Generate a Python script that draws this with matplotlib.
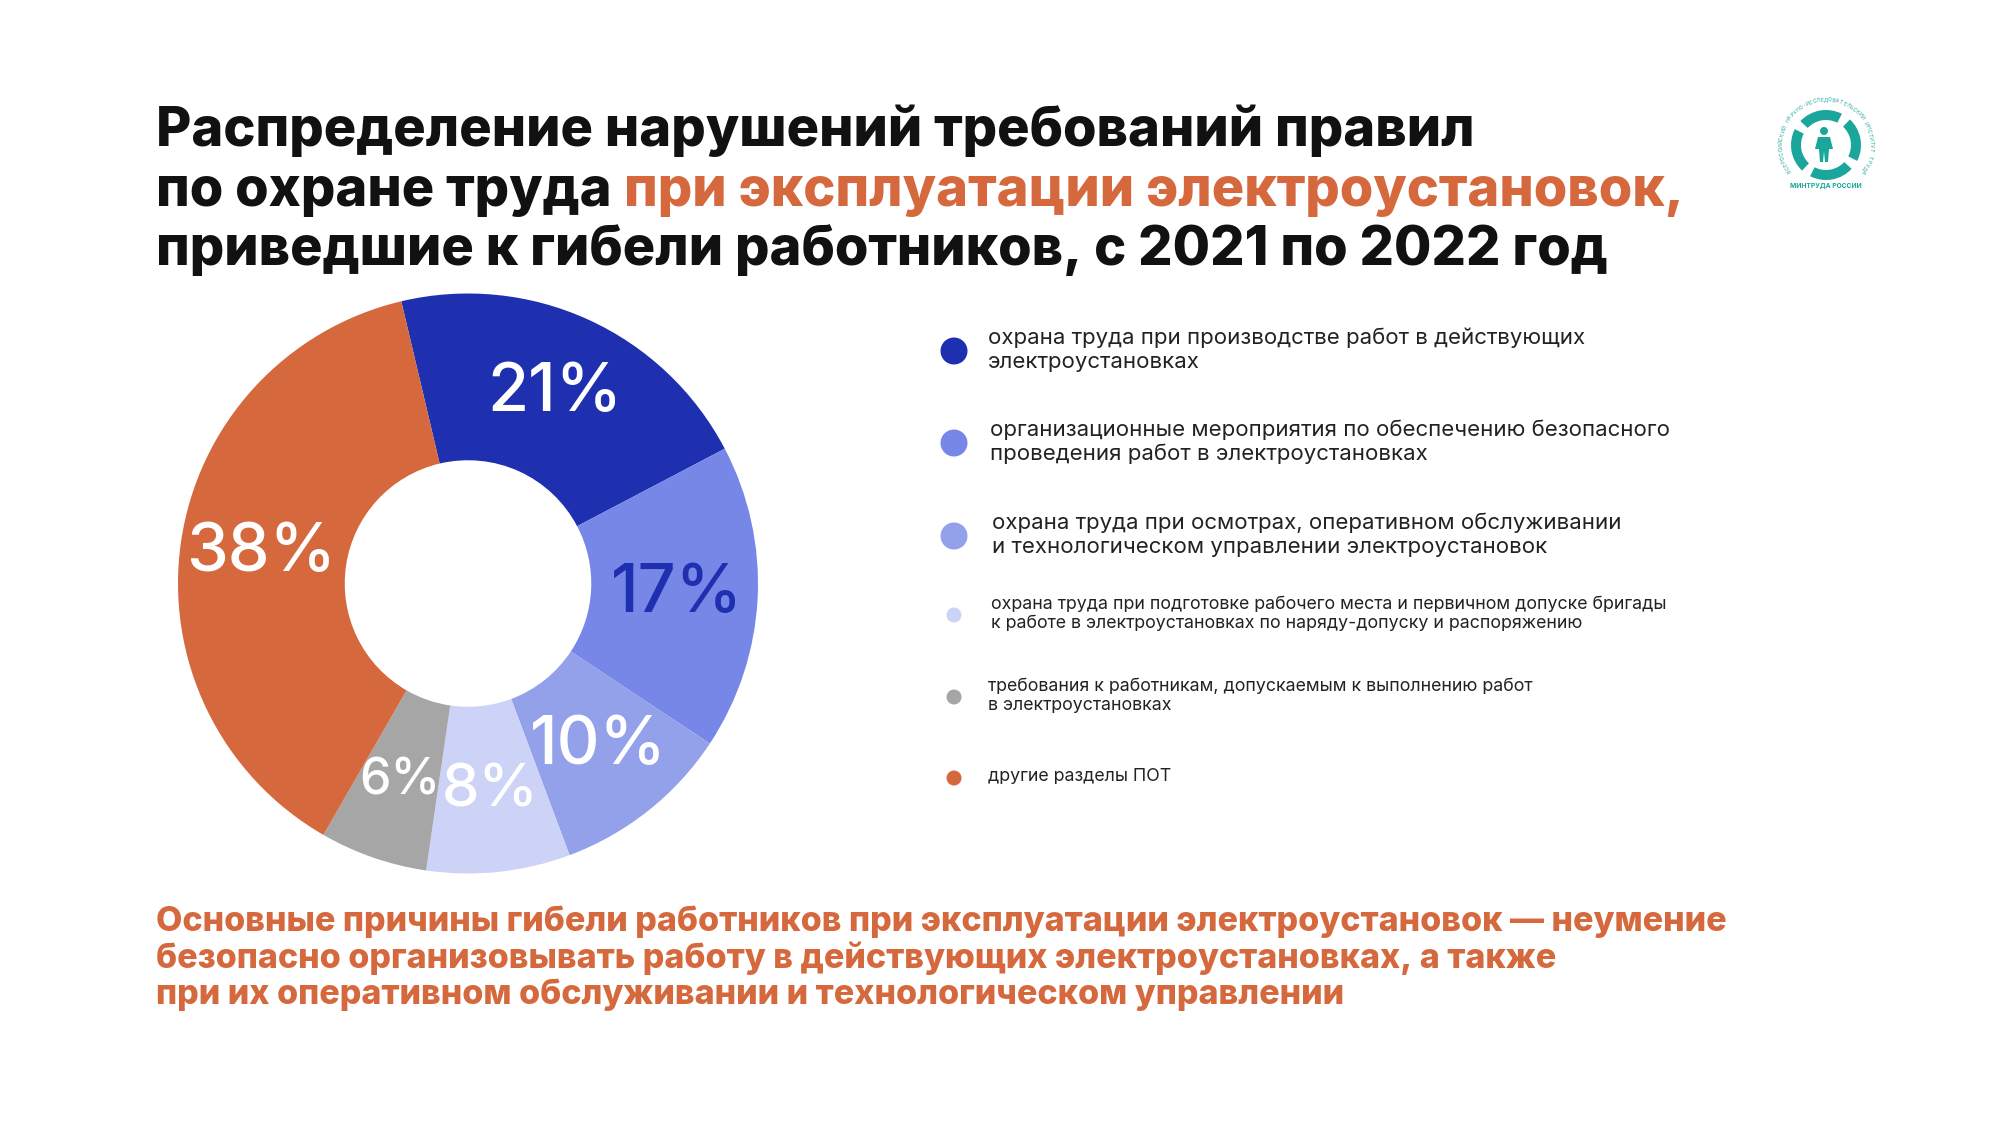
import numpy as np
import matplotlib
matplotlib.use("Agg")
import matplotlib.pyplot as plt
from matplotlib.patches import Circle, Wedge, Polygon

# data
shares = [21, 17, 10, 8, 6, 38]
pct_labels = ["21%", "17%", "10%", "8%", "6%", "38%"]
slice_colors = ["#1E30AF", "#7787E8", "#93A0EA", "#CDD3F6", "#A6A6A6", "#D5683D"]
label_colors = ["white", "#1E30AF", "white", "white", "white", "white"]
label_sizes = [48, 48, 48, 43, 36, 48]
legend_labels = [
    "охрана труда при производстве работ в действующих\nэлектроустановках",
    "организационные мероприятия по обеспечению безопасного\nпроведения работ в электроустановках",
    "охрана труда при осмотрах, оперативном обслуживании\nи технологическом управлении электроустановок",
    "охрана труда при подготовке рабочего места и первичном допуске бригады\nк работе в электроустановках по наряду-допуску и распоряжению",
    "требования к работникам, допускаемым к выполнению работ\nв электроустановках",
    "другие разделы ПОТ",
]

title_1 = "Распределение нарушений требований правил"
title_2a = "по охране труда"
title_2b = "при эксплуатации электроустановок,"
title_3 = "приведшие к гибели работников, с 2021 по 2022 год"
footer = ("Основные причины гибели работников при эксплуатации электроустановок — неумение\n"
          "безопасно организовывать работу в действующих электроустановках, а также\n"
          "при их оперативном обслуживании и технологическом управлении")

ORANGE = "#D5683D"
TEAL = "#1AA69B"
FONT = ["Inter", "DejaVu Sans"]
plt.rcParams["font.family"] = FONT

W, H = 2000, 1125
fig = plt.figure(figsize=(W / 100, H / 100), dpi=100)
fig.patch.set_facecolor("white")

# full-figure axes in pixel units (y down) for texts, legend and logo
bg = fig.add_axes([0, 0, 1, 1])
bg.set_xlim(0, W)
bg.set_ylim(H, 0)
bg.axis("off")

# donut
cx, cy, R = 468.0, 583.5, 290
ax = fig.add_axes([(cx - R) / W, (H - cy - R) / H, 2 * R / W, 2 * R / H])
start = 103.3
ax.pie(shares, colors=slice_colors, startangle=start, counterclock=False,
       radius=1.0, wedgeprops=dict(width=0.575, linewidth=0))
ax.set_xlim(-1, 1)
ax.set_ylim(-1, 1)
ax.set_aspect("equal")
ax.axis("off")

total = float(sum(shares))
ang = start
for v, lab, col, fs in zip(shares, pct_labels, label_colors, label_sizes):
    span = 360.0 * v / total
    mid = np.deg2rad(ang - span / 2)
    ax.text(0.72 * np.cos(mid), 0.72 * np.sin(mid), lab, color=col, fontsize=fs,
            fontweight="medium", ha="center", va="center")
    ang -= span

# title
tx = 156
fs_title = 39
tw = "heavy"
bg.text(tx, 146, title_1, fontsize=fs_title, fontweight=tw, color="#111111",
        ha="left", va="baseline")
t2 = bg.text(tx, 206, title_2a, fontsize=fs_title, fontweight=tw, color="#111111",
             ha="left", va="baseline")
r = fig.canvas.get_renderer()
w_a = t2.get_window_extent(r).width
tmp1 = bg.text(0, 0, "аа", fontsize=fs_title, fontweight=tw)
tmp2 = bg.text(0, 0, "а а", fontsize=fs_title, fontweight=tw)
sp = tmp2.get_window_extent(r).width - tmp1.get_window_extent(r).width
tmp1.remove()
tmp2.remove()
bg.text(tx + w_a + sp, 206, title_2b, fontsize=fs_title, fontweight=tw, color=ORANGE,
        ha="left", va="baseline")
bg.text(tx, 265, title_3, fontsize=fs_title, fontweight=tw, color="#111111",
        ha="left", va="baseline")

# legend
dot_y = [351, 443, 536, 615, 697, 778]
dot_r = [13.5, 13.5, 13.5, 7.5, 7.5, 7.5]
text_fs = [16, 16, 16, 12.8, 12.8, 12.8]
text_x = [988, 990, 992, 991, 988, 988]
for y, rr, col, lab, fs, x in zip(dot_y, dot_r, slice_colors, legend_labels, text_fs, text_x):
    bg.add_patch(Circle((954, y), rr, color=col, lw=0))
    bg.text(x, y - 1, lab, fontsize=fs, color="#222222", ha="left", va="center",
            linespacing=1.22)

# footer
bg.text(156, 958, footer, fontsize=24.5, fontweight="heavy", color=ORANGE,
        ha="left", va="center", linespacing=1.14)

# logo (simplified)
lx, ly = 1826, 145
for t1 in [35, 125, 215, 305]:
    bg.add_patch(Wedge((lx, ly), 35, t1 + 8, t1 + 82, width=10, color=TEAL, lw=0))
bg.add_patch(Circle((lx - 2, ly - 14), 4, color=TEAL, lw=0))
bg.add_patch(Polygon([[lx - 8, ly - 8], [lx + 4, ly - 8], [lx + 7, ly + 4], [lx + 3, ly + 4],
                      [lx + 2, ly + 17], [lx - 1, ly + 17], [lx - 2, ly + 6], [lx - 3, ly + 17],
                      [lx - 6, ly + 17], [lx - 7, ly + 4], [lx - 11, ly + 4]],
                     closed=True, color=TEAL, lw=0))
ring = "ВСЕРОССИЙСКИЙ НАУЧНО-ИССЛЕДОВАТЕЛЬСКИЙ ИНСТИТУТ ТРУДА"
angs = np.linspace(215, -35, len(ring))
for ch, a in zip(ring, angs):
    ra = np.deg2rad(a)
    bg.text(lx + 45 * np.cos(ra), ly - 45 * np.sin(ra), ch, fontsize=3.6, color=TEAL,
            rotation=a - 90, ha="center", va="center")
bg.text(lx, ly + 41, "МИНТРУДА РОССИИ", fontsize=4.8, fontweight="bold", color=TEAL,
        ha="center", va="center")

fig.savefig("out.png", dpi=100, facecolor="white")
